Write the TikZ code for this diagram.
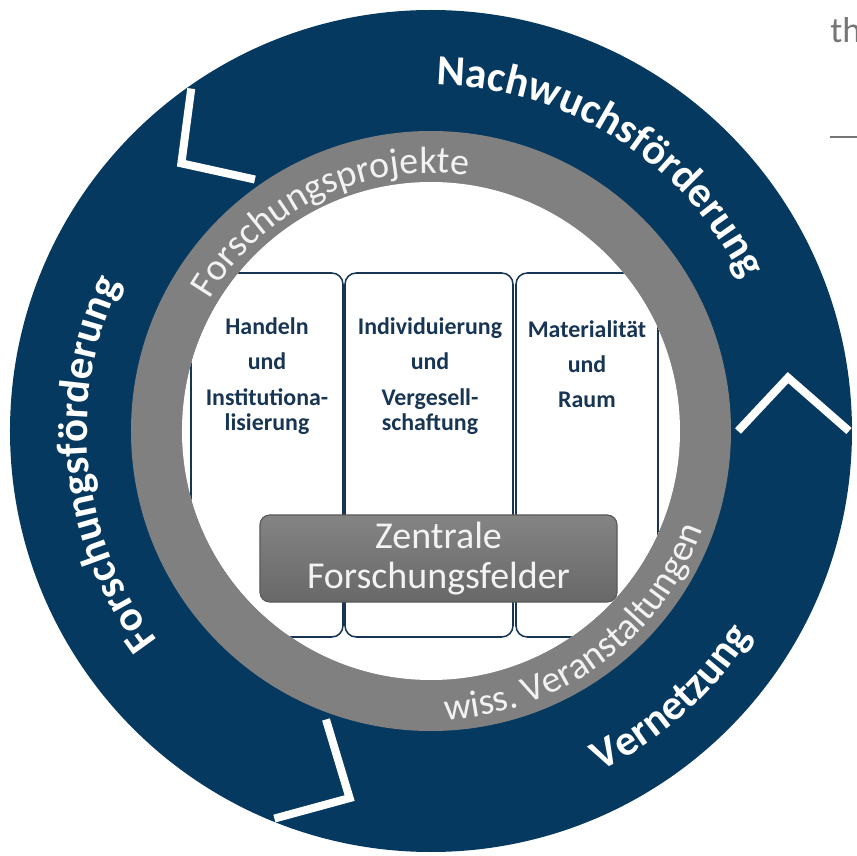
\documentclass[tikz,border=0pt]{standalone}
\usepackage{fontspec}
\setmainfont{Carlito}
\usetikzlibrary{decorations.text}
\definecolor{ringblue}{RGB}{6,57,96}
\definecolor{ringgray}{RGB}{128,128,128}
\definecolor{boxnavy}{RGB}{24,54,84}
\definecolor{ringtext}{RGB}{242,242,242}
\definecolor{thgray}{RGB}{118,118,118}
\definecolor{ztop}{RGB}{132,132,132}
\definecolor{zbot}{RGB}{104,104,104}
\definecolor{zedge}{RGB}{90,90,90}
\definecolor{ztext}{RGB}{243,243,243}
\tikzset{
  chevron/.style={draw=white, line width=5.7pt, line join=miter, line cap=butt},
  column/.style={draw=boxnavy, line width=1.1pt, rounded corners=8pt, fill=white},
  coltext/.style={text=boxnavy, font=\fontsize{17}{17}\selectfont\bfseries, anchor=base, inner sep=0pt},
  zbox/.style={draw=zedge, line width=0.8pt, rounded corners=7pt,
     top color=ztop, bottom color=zbot, text=ztext,
     font=\fontsize{27}{29}\selectfont, align=center, inner sep=0pt,
     minimum width=8.925cm, minimum height=2.175cm},
  graytext/.style={decorate, decoration={text along path, text align=center,
     text color=ringtext, text={|\fontsize{27}{27}\selectfont|#1}}},
  bluetext/.style={decorate, decoration={text along path, text align=center,
     text color=white, text={|\fontsize{30.5}{30}\selectfont\bfseries|#1}}}
}
\begin{document}
\begin{tikzpicture}[x=0.025cm, y=0.025cm]
\useasboundingbox (-431,-425) rectangle (426,431);
\fill[white] (-431,-425) rectangle (426,431);
% outer blue ring
\fill[ringblue] (0,0) circle[radius=421];
% chevrons
\draw[chevron] (125:418) -- (133:366) -- (125:307);
\draw[chevron] (0:418) -- (8.5:361) -- (0:307);
\draw[chevron] (-110:307) -- (-102.5:376) -- (-112:418);
% gray ring and white centre
\fill[ringgray] (0,0) circle[radius=300];
\fill[white] (0,0) circle[radius=249];
% columns
\begin{scope}
  \clip (0,0) circle[radius=249];
  \draw[column] (-240,158) rectangle (-88,-206);
  \draw[column] (-86,158) rectangle (82,-206);
  \draw[column] (85,158) rectangle (227,-206);
\end{scope}
% column texts
\node[coltext] (l1) at (-164,96) {Handeln};
\node[coltext] (l2) at (-164,61) {und};
\node[coltext] (l3) at (-164,25) {Institutiona-};
\node[coltext] (l4) at (-164,1) {lisierung};
\node[coltext] (m1) at (-1,96) {Individuierung};
\node[coltext] (m2) at (-1,61) {und};
\node[coltext] (m3) at (-1,25) {Vergesell-};
\node[coltext] (m4) at (-1,1) {schaftung};
\node[coltext] (r1) at (156,93) {Materialität};
\node[coltext] (r2) at (156,58) {und};
\node[coltext] (r3) at (156,23) {Raum};
% central box
\node[zbox] (zf) at (7.5,-127.5) {Zentrale\\Forschungsfelder};
% ring texts
\path[graytext=Forschungsprojekte] (174:258) arc[start angle=174, end angle=57, radius=258];
\path[graytext={wiss. Veranstaltungen}] (-115:289) arc[start angle=-115, end angle=8, radius=289];
\path[bluetext=Nachwuchsförderung] (100:346) arc[start angle=100, end angle=15, radius=346];
\path[bluetext=Forschungsförderung] (226:344) arc[start angle=226, end angle=146, radius=344];
\path[bluetext=Vernetzung] (-79:380) arc[start angle=-79, end angle=-17, radius=380];
% page fragments at top right
\node[anchor=base west, inner sep=0pt, text=thgray, font=\fontsize{25.6}{26}\selectfont] (th) at (399,388) {th};
\coordinate (ruleA) at (399,294);
\coordinate (ruleB) at (432,294);
\draw[thgray, line width=1.3pt] (ruleA) -- (ruleB);
\end{tikzpicture}
\end{document}
